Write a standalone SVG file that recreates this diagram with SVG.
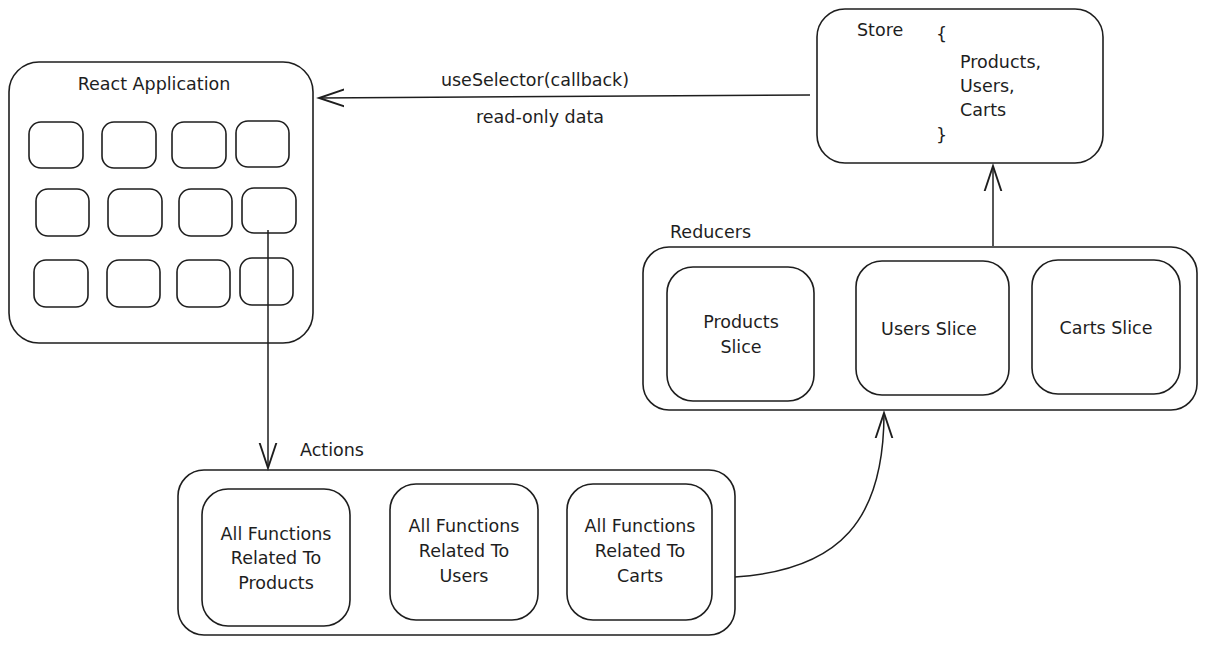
<svg xmlns="http://www.w3.org/2000/svg" width="1206" height="645" viewBox="0 0 1206 645">
<style>
.b{fill:none;stroke:#1e1e1e;stroke-width:1.6}
.c{fill:none;stroke:#1e1e1e;stroke-width:1.5}
text{font-family:"DejaVu Sans","Liberation Sans",Arial,sans-serif;font-size:17.5px;fill:#1e1e1e}
.m{text-anchor:middle}
</style>
<defs>
<marker id="ah" markerUnits="userSpaceOnUse" markerWidth="30" markerHeight="30" viewBox="-20 -10 24 20" refX="0" refY="0" orient="auto">
<path d="M-24 -8 L0 0 L-24 8" fill="none" stroke="#1e1e1e" stroke-width="1.5"/>
</marker>
</defs>
<rect width="1206" height="645" fill="#ffffff"/>
<g id="react-app">
<rect class="b" x="9" y="62" width="304" height="281" rx="30"/>
<text class="m" x="154" y="90">React Application</text>
<rect class="b" x="29" y="122" width="54" height="46" rx="12"/>
<rect class="b" x="102" y="122" width="54" height="46" rx="12"/>
<rect class="b" x="172" y="122" width="54" height="46" rx="12"/>
<rect class="b" x="236" y="121" width="53" height="46" rx="12"/>
<rect class="b" x="36" y="189" width="53" height="47" rx="12"/>
<rect class="b" x="108" y="189" width="54" height="47" rx="12"/>
<rect class="b" x="179" y="189" width="53" height="47" rx="12"/>
<rect class="b" x="242" y="188" width="54" height="45" rx="12"/>
<rect class="b" x="34" y="260" width="54" height="47" rx="12"/>
<rect class="b" x="107" y="260" width="53" height="47" rx="12"/>
<rect class="b" x="177" y="260" width="53" height="47" rx="12"/>
<rect class="b" x="240" y="258" width="53" height="47" rx="12"/>
</g>
<g id="store">
<rect class="b" x="817" y="9" width="286" height="154" rx="28"/>
<text x="857" y="36">Store</text>
<text x="936" y="40">{</text>
<text x="960" y="68">Products,</text>
<text x="960" y="92">Users,</text>
<text x="960" y="116">Carts</text>
<text x="936" y="141">}</text>
</g>
<g id="reducers">
<text x="670" y="238">Reducers</text>
<rect class="b" x="643" y="247" width="554" height="163" rx="26"/>
<rect class="b" x="667" y="267" width="147" height="134" rx="26"/>
<text class="m" x="741" y="328">Products</text>
<text class="m" x="741" y="353">Slice</text>
<rect class="b" x="856" y="261" width="153" height="134" rx="26"/>
<text class="m" x="929" y="335">Users Slice</text>
<rect class="b" x="1032" y="260" width="148" height="134" rx="26"/>
<text class="m" x="1106" y="334">Carts Slice</text>
</g>
<g id="actions">
<text x="300" y="456">Actions</text>
<rect class="b" x="178" y="470" width="557" height="165" rx="26"/>
<rect class="b" x="202" y="489" width="148" height="137" rx="26"/>
<text class="m" x="276" y="540">All Functions</text>
<text class="m" x="276" y="564">Related To</text>
<text class="m" x="276" y="589">Products</text>
<rect class="b" x="390" y="484" width="148" height="136" rx="26"/>
<text class="m" x="464" y="532">All Functions</text>
<text class="m" x="464" y="557">Related To</text>
<text class="m" x="464" y="582">Users</text>
<rect class="b" x="567" y="484" width="145" height="136" rx="26"/>
<text class="m" x="640" y="532">All Functions</text>
<text class="m" x="640" y="557">Related To</text>
<text class="m" x="640" y="582">Carts</text>
</g>
<g id="connectors">
<path class="c" d="M810 95 L319 98" marker-end="url(#ah)"/>
<text class="m" x="535" y="86">useSelector(callback)</text>
<text class="m" x="540" y="123">read-only data</text>
<path class="c" d="M268 230 L268 468" marker-end="url(#ah)"/>
<path class="c" d="M993 246 L993 166" marker-end="url(#ah)"/>
<path class="c" d="M735 577 C840 570 884 520 884 413" marker-end="url(#ah)"/>
</g>
</svg>
